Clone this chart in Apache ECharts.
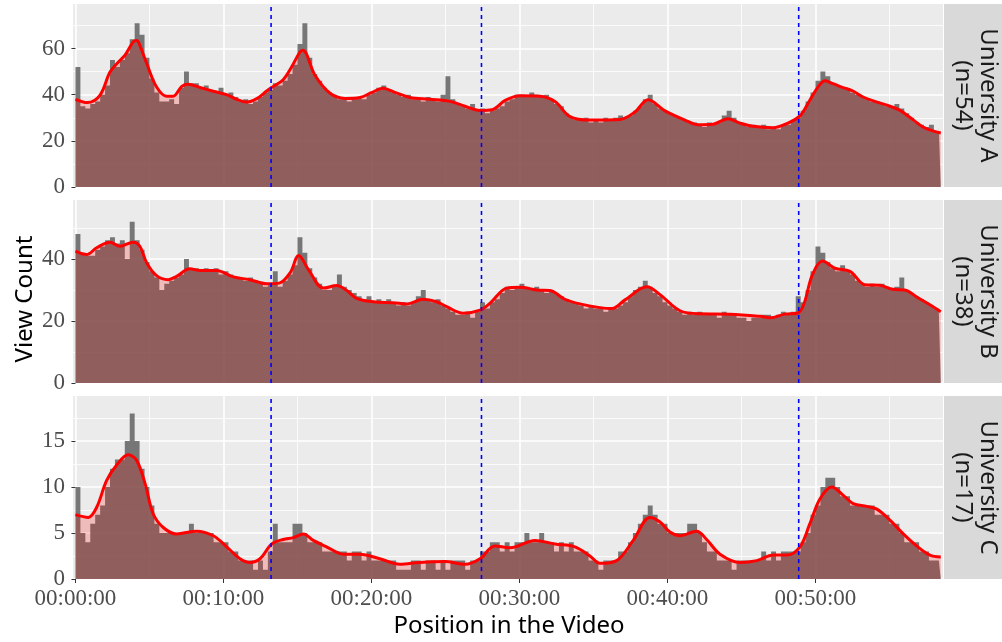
<!DOCTYPE html>
<html><head><meta charset="utf-8">
<script src="https://cdn.jsdelivr.net/npm/echarts@6/dist/echarts.min.js"></script>
<style>html,body{margin:0;padding:0;background:#fff}#c{width:1002px;height:642px}</style>
</head><body><div id="c"></div>
<script>
// ---- data (20-second bins of view counts) ----
const binSeconds = 20;
const videoEnd = 3508;
const binsA = [
52,35,34, 36,37,40, 44,55,52, 55,58,64, 71,66,56, 47,41,37, 37,38,36, 43,50,45, 45,43,44, 42,41,43,
40,41,39, 37,38,36, 37,39,41, 42,45,44, 46,49,53, 62,71,56, 49,46,43, 41,40,38, 38,37,39, 39,38,40,
41,43,44, 42,41,40, 39,40,38, 38,37,39, 38,37,40, 48,38,36, 35,34,36, 33,34,32, 33,34,35, 37,38,40,
40,39,41, 40,39,40, 38,36,35, 32,30,29, 29,30,28, 29,28,30, 29,30,31, 30,31,33, 35,38,40, 36,34,33,
32,31,30, 29,28,28, 27,26,28, 27,28,31, 33,30,28, 27,26,27, 26,27,25, 26,25,27, 27,29,30, 33,37,41,
46,50,48, 45,44,43, 42,41,40, 39,38,37, 37,36,35, 35,36,34, 32,30,28, 27,26,27, 24,26
];
const binsB = [
48,42,41, 41,43,44, 46,47,45, 46,40,52, 46,43,39, 36,34,30, 32,33,34, 35,40,37, 37,36,37, 36,37,35,
36,35,34, 34,33,34, 33,32,31, 32,36,31, 33,35,38, 47,42,37, 34,32,30, 30,31,35, 31,30,29, 28,27,28,
26,27,26, 27,26,25, 26,25,26, 28,30,27, 26,27,25, 24,23,22, 22,23,21, 23,26,24, 26,27,29, 31,30,31,
32,31,30, 31,30,29, 30,29,28, 27,26,26, 25,24,25, 24,24,23, 24,24,25, 26,28,30, 31,33,31, 29,28,26,
25,24,23, 22,23,22, 23,22,22, 22,21,23, 22,22,21, 21,20,21, 21,22,22, 21,22,23, 22,23,28, 26,30,36,
44,42,39, 37,36,38, 36,35,33, 32,31,32, 31,32,31, 30,31,34, 30,29,28, 27,26,25, 24,23
];
const binsC = [
10,5,4, 6,7,8, 10,12,13, 13,15,18, 15,12,10, 8,6,5, 5,5,5, 5,5,6, 5,5,5, 5,4,4,
4,3,3, 2,2,2, 1,2,1, 3,6,4, 4,4,6, 6,5,4, 4,4,3, 3,3,3, 3,2,3, 3,2,3,
2,2,2, 2,2,1, 1,1,2, 2,1,2, 2,1,2, 1,2,2, 2,1,2, 2,3,3, 4,4,3, 4,3,4,
4,5,4, 4,5,4, 4,3,4, 3,4,3, 3,3,2, 2,1,2, 2,2,3, 3,4,5, 6,7,8, 7,6,6,
5,5,5, 5,6,6, 5,4,3, 3,2,2, 2,1,2, 2,2,2, 2,3,2, 3,2,3, 3,3,3, 4,5,7,
8,10,11, 11,10,9, 9,8,8, 8,8,8, 7,7,7, 6,6,5, 4,4,4, 3,3,2, 2,2
];
// smoothed curve: [second, value]
const smoothA = [[0,38],[48,36.6],[99,39.7],[140,49.8],[174,54.2],[201,57.1],[234,62.9],[249,63.5],[261,61.4],[289,53.5],[329,43.3],[370,39.3],[396,39.3],[431,43.6],[457,44.5],[505,43.1],[559,41.5],[613,40.0],[654,38.0],[694,36.8],[735,38.3],[775,41.6],[802,43.6],[842,46.5],[876,52.0],[910,58.5],[922,59.3],[971,48.4],[1032,40.6],[1093,38.4],[1153,38.8],[1202,41],[1247,42.8],[1295,41],[1356,38.8],[1437,38],[1518,37.1],[1579,35],[1640,33.2],[1689,33.5],[1742,37.5],[1802,39.5],[1883,39.3],[1944,37],[2005,30.5],[2086,29],[2208,29.3],[2268,32.5],[2321,37.8],[2390,33],[2471,29],[2525,27],[2585,27.2],[2645,29.6],[2694,27.7],[2747,26.3],[2828,25.7],[2884,27.5],[2937,30.8],[2977,37.6],[3010,43.3],[3039,46.0],[3071,44.8],[3112,43.1],[3152,41.6],[3193,39.0],[3250,36.8],[3302,35.0],[3343,33.2],[3395,29.2],[3436,26.0],[3476,24.3],[3508,23.4]];
const smoothB = [[0,42.5],[45,41.4],[86,43.6],[140,45.4],[180,44.1],[234,45.4],[261,44.1],[289,38.7],[329,34.6],[376,33.3],[410,34.4],[464,36.8],[505,36.3],[572,36.3],[640,34.2],[707,33.3],[775,32.0],[826,32.2],[870,35.5],[905,41.1],[945,36.5],[1005,30.6],[1059,31.4],[1100,29.8],[1140,27.3],[1207,26.2],[1288,25.9],[1343,25.5],[1410,27.0],[1464,26.2],[1505,24.6],[1572,22.5],[1640,23.5],[1680,25.7],[1748,30.6],[1802,30.9],[1870,30.0],[1924,29.8],[1984,27],[2045,25.5],[2126,24.3],[2175,24],[2228,26.8],[2317,31],[2370,28.5],[2451,23.3],[2532,22.3],[2654,22.2],[2776,21.5],[2816,21],[2876,22.2],[2925,22.5],[2951,25],[2988,35],[3028,39.3],[3079,37],[3140,36],[3200,31.7],[3261,31.5],[3314,30.2],[3362,30],[3415,27.5],[3464,25.2],[3508,23]];
const smoothC = [[0,7.0],[52,6.7],[86,7.8],[126,10.7],[167,12.4],[214,13.5],[248,12.9],[282,10.4],[315,7.1],[356,5.6],[410,4.9],[491,5.2],[559,4.7],[613,3.5],[667,2.2],[707,1.8],[748,2.2],[795,3.8],[842,4.3],[883,4.5],[924,4.9],[964,4.2],[1018,3.5],[1086,2.7],[1153,2.7],[1234,2.2],[1315,1.6],[1396,1.8],[1498,1.9],[1579,1.6],[1640,2.2],[1700,3.6],[1761,3.4],[1863,4.2],[1944,3.8],[2025,3.5],[2086,2.5],[2126,1.7],[2194,2.0],[2261,4.2],[2329,6.7],[2370,6.2],[2410,5.1],[2451,4.7],[2518,5.2],[2559,4.3],[2613,2.7],[2694,1.8],[2762,2.0],[2829,2.6],[2884,2.6],[2937,3.5],[2977,6.0],[3018,8.7],[3066,10.0],[3113,9.1],[3153,8.2],[3208,7.9],[3249,7.6],[3302,6.4],[3356,4.9],[3410,3.6],[3464,2.6],[3508,2.4]];
const sectionMarks = [793, 1646, 2932];
const xTickSeconds = [0, 600, 1200, 1800, 2400, 3000];
const xTickLabels = ['00:00:00', '00:10:00', '00:20:00', '00:30:00', '00:40:00', '00:50:00'];
const xMinorSeconds = [300, 900, 1500, 2100, 2700, 3300];
const yTicksA = [0, 20, 40, 60], yMinorA = [10, 30, 50, 70];
const yTicksB = [0, 20, 40], yMinorB = [10, 30, 50];
const yTicksC = [0, 5, 10, 15], yMinorC = [2.5, 7.5, 12.5, 17.5];
const panelLabels = ['University A\n(n=54)', 'University B\n(n=38)', 'University C\n(n=17)'];

// ---- layout ----
const panels = [
  {bins: binsA, smooth: smoothA, yMax: 79.3, yTicks: yTicksA, yMinor: yMinorA},
  {bins: binsB, smooth: smoothB, yMax: 59, yTicks: yTicksB, yMinor: yMinorB},
  {bins: binsC, smooth: smoothC, yMax: 19.9, yTicks: yTicksC, yMinor: yMinorC}
];
const tops = [4, 200, 396];
const PH = 183, GL = 73, GR = 59;
const XMIN = -10, XMAX = 3517;
const serif = '"Liberation Serif", "DejaVu Serif", serif';
const sans = '"Noto Sans", "DejaVu Sans", sans-serif';

const grid = [], xAxis = [], yAxis = [], series = [], graphic = [];
panels.forEach((p, i) => {
  grid.push({left: GL, right: GR, top: tops[i], height: PH, show: true, backgroundColor: '#EBEBEB', borderWidth: 0, containLabel: false});
  xAxis.push({
    type: 'value', gridIndex: i, min: XMIN, max: XMAX,
    axisLine: {show: false},
    axisTick: {show: i === 2, customValues: xTickSeconds, length: 4, lineStyle: {color: '#333333', width: 1}},
    axisLabel: {show: i === 2, customValues: xTickSeconds,
      formatter: v => { const k = xTickSeconds.indexOf(v); return k >= 0 ? xTickLabels[k] : ''; },
      fontFamily: serif, fontSize: 23, color: '#4D4D4D', margin: 8},
    splitLine: {show: true, lineStyle: {color: '#FFFFFF', width: 1.6}}
  });
  xAxis.push({
    type: 'value', gridIndex: i, min: XMIN, max: XMAX, position: 'bottom',
    axisLine: {show: false},
    axisTick: {show: false, customValues: xMinorSeconds},
    axisLabel: {show: false, customValues: xMinorSeconds},
    splitLine: {show: true, lineStyle: {color: '#FFFFFF', width: 0.8}}
  });
  yAxis.push({
    type: 'value', gridIndex: i, min: 0, max: p.yMax,
    axisLine: {show: false},
    axisTick: {show: true, customValues: p.yTicks, length: 4, lineStyle: {color: '#333333', width: 1}},
    axisLabel: {show: true, customValues: p.yTicks, fontFamily: serif, fontSize: 23, color: '#4D4D4D', margin: 8},
    splitLine: {show: true, lineStyle: {color: '#FFFFFF', width: 1.6}}
  });
  yAxis.push({
    type: 'value', gridIndex: i, min: 0, max: p.yMax, position: 'left',
    axisLine: {show: false},
    axisTick: {show: false, customValues: p.yMinor},
    axisLabel: {show: false, customValues: p.yMinor},
    splitLine: {show: true, lineStyle: {color: '#FFFFFF', width: 0.8}}
  });
  const stepData = p.bins.map((v, k) => [k * binSeconds, v]);
  stepData.push([videoEnd, p.bins[p.bins.length - 1]]);
  series.push({
    type: 'line', xAxisIndex: 2 * i, yAxisIndex: 2 * i, data: stepData, step: 'end',
    symbol: 'none', lineStyle: {width: 0}, areaStyle: {color: 'rgba(89,89,89,0.8)', opacity: 1},
    z: 2, silent: true
  });
  series.push({
    type: 'line', xAxisIndex: 2 * i, yAxisIndex: 2 * i, data: p.smooth, smooth: 0.35,
    symbol: 'none', lineStyle: {color: '#FF0000', width: 3},
    areaStyle: {color: 'rgba(255,0,0,0.2)', opacity: 1}, z: 3, silent: true
  });
  sectionMarks.forEach(s => {
    series.push({
      type: 'line', xAxisIndex: 2 * i, yAxisIndex: 2 * i, data: [[s, 0], [s, p.yMax]],
      symbol: 'none', lineStyle: {color: '#0000FF', type: [4, 4], width: 1.6}, z: 10, silent: true
    });
  });
  graphic.push({type: 'rect', shape: {x: 944, y: tops[i], width: 58, height: PH}, style: {fill: '#D9D9D9'}, silent: true});
  graphic.push({type: 'text', x: 975.5, y: tops[i] + PH / 2, rotation: -Math.PI / 2, silent: true,
    style: {text: panelLabels[i], font: '24px ' + sans, fill: '#1A1A1A', textAlign: 'center', textVerticalAlign: 'middle', lineHeight: 25}});
});
graphic.push({type: 'text', x: 25, y: 299, rotation: Math.PI / 2, silent: true,
  style: {text: 'View Count', font: '24px ' + sans, fill: '#000000', textAlign: 'center', textVerticalAlign: 'middle'}});
graphic.push({type: 'text', x: 509, y: 626, silent: true,
  style: {text: 'Position in the Video', font: '24px ' + sans, fill: '#000000', textAlign: 'center', textVerticalAlign: 'middle'}});

const chart = echarts.init(document.getElementById('c'), null, {renderer: 'canvas'});
chart.setOption({animation: false, backgroundColor: '#FFFFFF', grid, xAxis, yAxis, series, graphic});
</script></body></html>
